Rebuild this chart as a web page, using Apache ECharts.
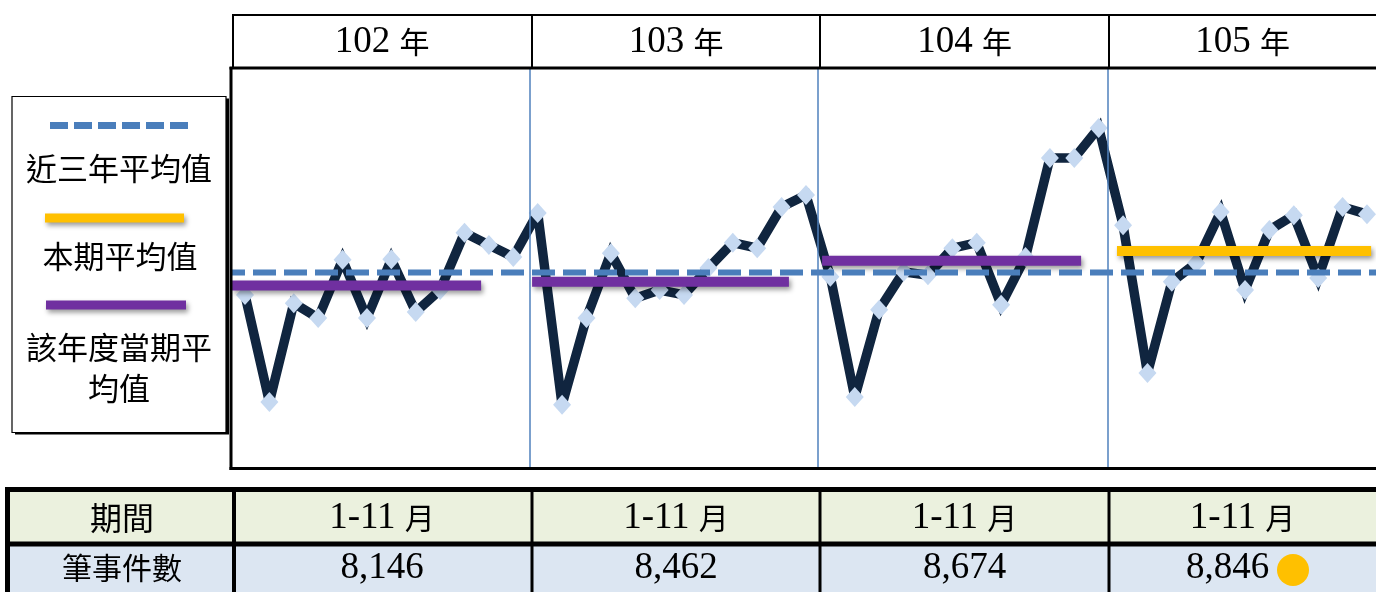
<!DOCTYPE html>
<html><head><meta charset="utf-8">
<script src="https://cdn.jsdelivr.net/npm/echarts@6/dist/echarts.min.js"></script>
<style>html,body{margin:0;padding:0;background:#fff;overflow:hidden}#c{width:1376px;height:592px}</style>
</head><body><div id="c"></div>
<script>
// ---------------- data ----------------
const years = ['102 年', '103 年', '104 年', '105 年'];
const periods = ['1-11 月', '1-11 月', '1-11 月', '1-11 月'];
const counts = ['8,146', '8,462', '8,674', '8,846'];
const rowHeads = ['期間', '筆事件數'];
const legendNames = ['近三年平均值', '本期平均值', '該年度當期平均值'];
const months102 = [725, 530, 710, 683, 789, 683, 790, 694, 734, 838, 816, 794];
const months103 = [874, 525, 683, 801, 719, 734, 725, 774, 820, 810, 885, 907];
const months104 = [758, 539, 698, 767, 761, 810, 820, 707, 794, 974, 974, 1029];
const months105 = [852, 583, 749, 783, 876, 734, 843, 870, 756, 885, 872];
const threeYearAvg = 766;
const yearAvg = [742, 749, 787];   // 102, 103, 104 (same period)
const currentAvg = 805;            // 105

// ---------------- layout (not data) ----------------
const segExtents = [[-0.53, 9.68], [11.77, 22.3], [23.66, 34.28], [35.75, 46.17]];
const yearBreaks = [11.66, 23.47, 35.38];
const colX = [232, 532, 820, 1109, 1376];

const C_LINE = '#10253F', C_MARK = '#C6D9F1', C_DASH = '#4A7EBB',
      C_PURPLE = '#7030A0', C_YELLOW = '#FFC000', C_SEP = '#4F81BD';

const allMonths = [].concat(months102, months103, months104, months105);
const mainData = allMonths.map((v, i) => [i, v]);

function rich(s) {
  let out = '', cur = '', type = null;
  for (const ch of s) {
    const t = ch.charCodeAt(0) < 128 ? 'n' : 'c';
    if (t !== type && cur) { out += '{' + type + '|' + cur + '}'; cur = ''; }
    type = t; cur += ch;
  }
  if (cur) out += '{' + type + '|' + cur + '}';
  return out;
}
const richStyles = {
  n: { fontFamily: 'Liberation Serif', fontSize: 37, fill: '#000' },
  c: { fontFamily: 'Noto Sans CJK TC', fontSize: 30, fill: '#000' }
};

const shadow = { shadowColor: 'rgba(0,0,0,0.4)', shadowBlur: 5, shadowOffsetX: 2, shadowOffsetY: 3 };

const series = [];
series.push({
  name: '件數', type: 'line', data: mainData, z: 2,
  symbol: 'diamond', symbolSize: [18, 20], showAllSymbol: true,
  itemStyle: { color: C_MARK },
  lineStyle: { color: C_LINE, width: 9.5, join: 'miter', miterLimit: 3 },
  markLine: {
    silent: true, symbol: 'none', label: { show: false },
    lineStyle: { color: C_SEP, width: 1.5, type: 'solid' },
    data: yearBreaks.map(x => ({ xAxis: x }))
  }
});
series.push({
  name: legendNames[0], type: 'line', z: 4, symbol: 'none',
  data: [[-0.533, threeYearAvg], [46.37, threeYearAvg]],
  lineStyle: { color: C_DASH, width: 6, type: [23, 8], dashOffset: 10, cap: 'butt' }
});
yearAvg.forEach((v, k) => {
  series.push({
    name: legendNames[2], type: 'line', z: 3, symbol: 'none',
    data: [[segExtents[k][0], v], [segExtents[k][1], v]],
    lineStyle: Object.assign({ color: C_PURPLE, width: 10, cap: 'butt' }, shadow)
  });
});
series.push({
  name: legendNames[1], type: 'line', z: 3, symbol: 'none',
  data: [[segExtents[3][0], currentAvg], [segExtents[3][1], currentAvg]],
  lineStyle: Object.assign({ color: C_YELLOW, width: 10, cap: 'butt' }, shadow)
});

// ---------------- graphics: header, frame, legend box, table ----------------
const g = [];
function hline(x1, x2, y, w, c) { g.push({ type: 'line', silent: true, z: 10, shape: { x1, y1: y, x2, y2: y }, style: { stroke: c || '#000', lineWidth: w } }); }
function vline(x, y1, y2, w, c) { g.push({ type: 'line', silent: true, z: 10, shape: { x1: x, y1, x2: x, y2 }, style: { stroke: c || '#000', lineWidth: w } }); }
function text(s, x, y, useRich, size) {
  const st = { x, y, align: 'center', verticalAlign: 'middle', fill: '#000' };
  if (useRich) { st.text = rich(s); st.rich = richStyles; }
  else { st.text = s; st.font = (size || 30) + 'px "Noto Sans CJK TC"'; }
  g.push({ type: 'text', silent: true, z: 11, style: st });
}

// header row
hline(232, 1376, 15, 2);
vline(233, 14, 68, 2);
for (let k = 1; k < 4; k++) vline(colX[k], 14, 68, 2);
years.forEach((y, k) => text(y, (colX[k] + colX[k + 1]) / 2, 42, true));

// plot frame
hline(229.5, 1376, 68, 3);
vline(231, 67, 470, 3);
hline(229.5, 1376, 468.5, 3);

// legend box (with hard drop shadow on right/bottom)
g.push({ type: 'rect', silent: true, z: 9, shape: { x: 15, y: 98.5, width: 214, height: 336 }, style: { fill: '#000' } });
g.push({ type: 'rect', silent: true, z: 9, shape: { x: 12, y: 96.5, width: 214, height: 336 },
  style: { fill: '#fff', stroke: '#000', lineWidth: 1.2 } });
g.push({ type: 'line', silent: true, z: 10, shape: { x1: 50, y1: 125.5, x2: 189, y2: 125.5 },
  style: { stroke: C_DASH, lineWidth: 7, lineDash: [18, 6] } });
g.push({ type: 'line', silent: true, z: 10, shape: { x1: 45, y1: 218, x2: 184, y2: 218 },
  style: Object.assign({ stroke: C_YELLOW, lineWidth: 9 }, shadow) });
g.push({ type: 'line', silent: true, z: 10, shape: { x1: 46, y1: 305, x2: 186, y2: 305 },
  style: Object.assign({ stroke: C_PURPLE, lineWidth: 9 }, shadow) });
text(legendNames[0], 119, 168, false, 31);
text(legendNames[1], 120, 256, false, 31);
text(legendNames[2].slice(0, 6), 119, 347, false, 31);
text(legendNames[2].slice(6), 119, 388, false, 31);

// table
g.push({ type: 'rect', silent: true, z: 8, shape: { x: 8, y: 490, width: 1370, height: 53 }, style: { fill: '#EBF1DE' } });
g.push({ type: 'rect', silent: true, z: 8, shape: { x: 8, y: 545, width: 1370, height: 50 }, style: { fill: '#DCE6F2' } });
hline(5, 1376, 489.5, 5);
hline(5, 1376, 544, 5);
vline(7.5, 487, 592, 5);
vline(234, 487, 592, 4);
for (let k = 1; k < 4; k++) vline(colX[k], 487, 592, 3);
text(rowHeads[0], 122, 518, false, 32);
text(rowHeads[1], 122, 568, false, 30);
periods.forEach((p, k) => text(p, (colX[k] + colX[k + 1]) / 2, 518, true));
counts.forEach((c, k) => {
  const cx = (colX[k] + colX[k + 1]) / 2;
  text(c, k === 3 ? cx - 15 : cx, 568, true);
});
g.push({ type: 'circle', silent: true, z: 11, shape: { cx: 1293, cy: 570, r: 16 }, style: { fill: C_YELLOW } });

const chart = echarts.init(document.getElementById('c'), null, { renderer: 'canvas' });
chart.setOption({
  animation: false,
  backgroundColor: '#fff',
  grid: { left: 232, top: 68, width: 1144, height: 400, containLabel: false },
  xAxis: { type: 'value', min: -0.533, max: 46.37, show: false },
  yAxis: { type: 'value', min: 410, max: 1138, show: false },
  tooltip: { show: false },
  series: series,
  graphic: g
});
</script></body></html>
